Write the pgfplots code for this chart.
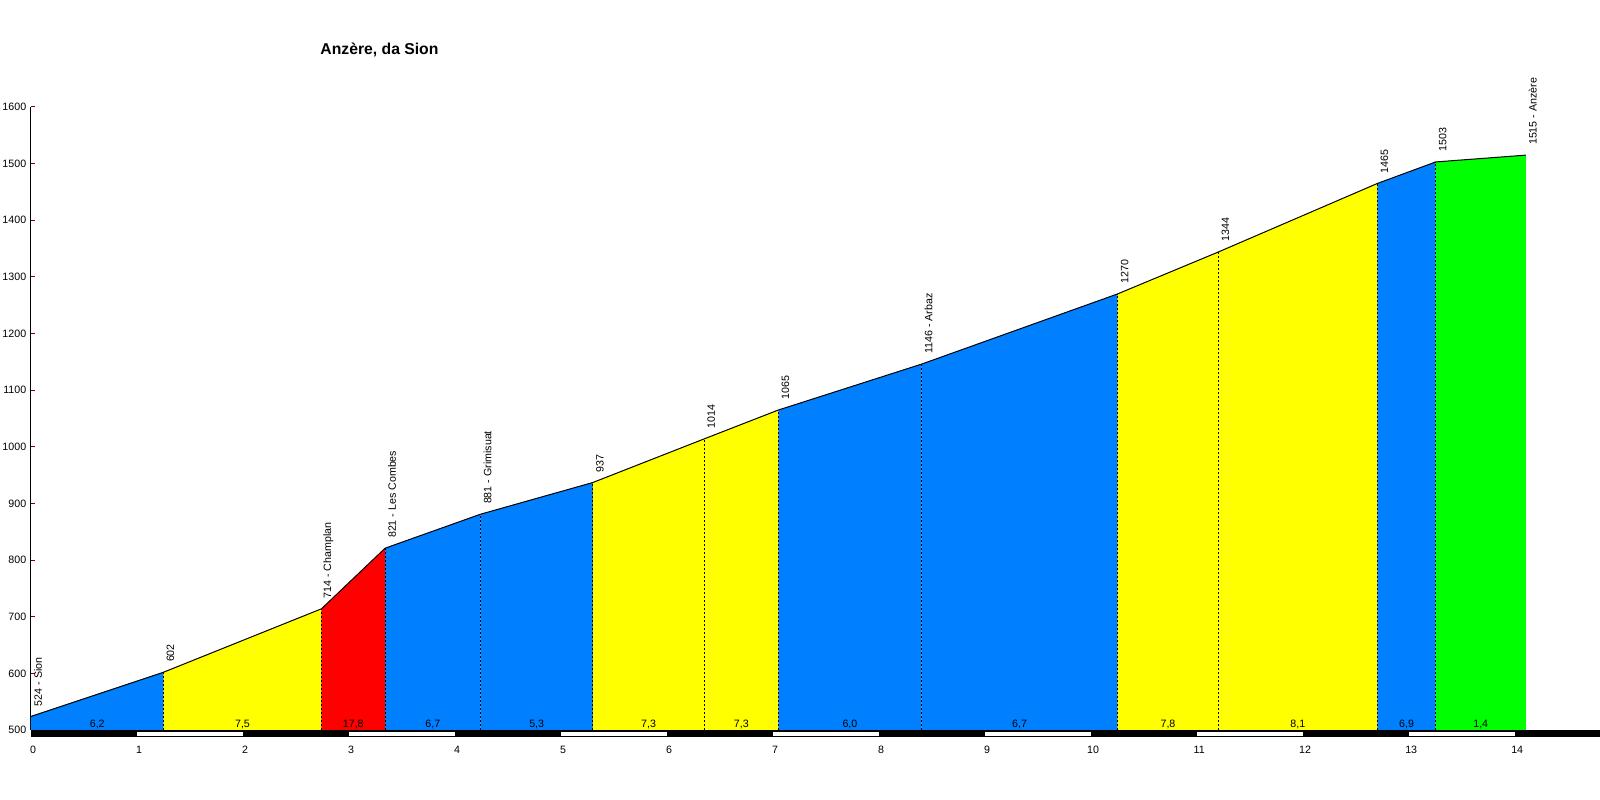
\documentclass[border=0pt]{standalone}
\usepackage{fontspec}
\setmainfont{Liberation Sans}
\usepackage{pgfplots}
\pgfplotsset{compat=1.18}
\definecolor{cblue}{RGB}{0,128,255}
\definecolor{cyellow}{RGB}{255,255,0}
\definecolor{cred}{RGB}{255,0,0}
\definecolor{cgreen}{RGB}{0,255,0}
\definecolor{tickred}{RGB}{128,0,0}
\begin{document}
\begin{tikzpicture}
\useasboundingbox (0,0) rectangle (1200pt,600pt);
\node[anchor=base, font=\bfseries\fontsize{11.8}{14}\selectfont] at (284.6pt,559.3pt) {Anzère, da Sion};
\begin{axis}[
  at={(23.25pt,52.5pt)}, anchor=south west,
  scale only axis, width=1176.75pt, height=467.25pt,
  xmin=0, xmax=14.8, ymin=500, ymax=1600,
  clip=false,
  axis x line=bottom, axis y line=left,
  x axis line style={draw=none},
  y axis line style={-, line width=0.75pt, black},
  xtick={0,1,...,14}, ytick={500,600,...,1600},
  xtick style={draw=none},
  ytick style={tickred, line width=0.75pt},
  tick align=inside, major tick length=3pt,
  /pgf/number format/assume math mode=true,
  /pgf/number format/1000 sep={},
  tick label style={font=\fontsize{8}{9.6}\selectfont},
  yticklabel style={inner sep=0pt, xshift=-3.4pt},
  xticklabel style={inner sep=0pt, yshift=-12pt, xshift=1.5pt, anchor=north},
]
% filled segments
\addplot[fill=cblue, draw=none] coordinates {(0,524) (1.25,602)} \closedcycle;
\addplot[fill=cyellow, draw=none] coordinates {(1.25,602) (2.74,714)} \closedcycle;
\addplot[fill=cred, draw=none] coordinates {(2.74,714) (3.34,821)} \closedcycle;
\addplot[fill=cblue, draw=none] coordinates {(3.34,821) (4.24,881)} \closedcycle;
\addplot[fill=cblue, draw=none] coordinates {(4.24,881) (5.30,937)} \closedcycle;
\addplot[fill=cyellow, draw=none] coordinates {(5.30,937) (6.35,1014)} \closedcycle;
\addplot[fill=cyellow, draw=none] coordinates {(6.35,1014) (7.05,1065)} \closedcycle;
\addplot[fill=cblue, draw=none] coordinates {(7.05,1065) (8.40,1146)} \closedcycle;
\addplot[fill=cblue, draw=none] coordinates {(8.40,1146) (10.25,1270)} \closedcycle;
\addplot[fill=cyellow, draw=none] coordinates {(10.25,1270) (11.20,1344)} \closedcycle;
\addplot[fill=cyellow, draw=none] coordinates {(11.20,1344) (12.70,1465)} \closedcycle;
\addplot[fill=cblue, draw=none] coordinates {(12.70,1465) (13.25,1503)} \closedcycle;
\addplot[fill=cgreen, draw=none] coordinates {(13.25,1503) (14.10,1515)} \closedcycle;
% dashed separators
\pgfplotsset{sep/.style={black, line width=0.75pt, dash pattern=on 1.5pt off 1.5pt, mark=none}}
\addplot[sep] coordinates {(1.25,500) (1.25,602)};
\addplot[sep] coordinates {(2.74,500) (2.74,714)};
\addplot[sep] coordinates {(3.34,500) (3.34,821)};
\addplot[sep] coordinates {(4.24,500) (4.24,881)};
\addplot[sep] coordinates {(5.30,500) (5.30,937)};
\addplot[sep] coordinates {(6.35,500) (6.35,1014)};
\addplot[sep] coordinates {(7.05,500) (7.05,1065)};
\addplot[sep] coordinates {(8.40,500) (8.40,1146)};
\addplot[sep] coordinates {(10.25,500) (10.25,1270)};
\addplot[sep] coordinates {(11.20,500) (11.20,1344)};
\addplot[sep] coordinates {(12.70,500) (12.70,1465)};
\addplot[sep] coordinates {(13.25,500) (13.25,1503)};
% profile line
\addplot[black, line width=0.75pt, mark=none] coordinates {
(0,524) (1.25,602) (2.74,714) (3.34,821) (4.24,881) (5.30,937) (6.35,1014)
(7.05,1065) (8.40,1146) (10.25,1270) (11.20,1344) (12.70,1465) (13.25,1503) (14.10,1515)};
% scale bar
\addplot[fill=black, draw=none] coordinates {(0,500) (14.8,500) (14.8,488.3) (0,488.3)} --cycle;
\pgfplotsset{wseg/.style={fill=white, draw=none}}
\addplot[wseg] coordinates {(1,497) (2,497) (2,490) (1,490)} --cycle;
\addplot[wseg] coordinates {(3,497) (4,497) (4,490) (3,490)} --cycle;
\addplot[wseg] coordinates {(5,497) (6,497) (6,490) (5,490)} --cycle;
\addplot[wseg] coordinates {(7,497) (8,497) (8,490) (7,490)} --cycle;
\addplot[wseg] coordinates {(9,497) (10,497) (10,490) (9,490)} --cycle;
\addplot[wseg] coordinates {(11,497) (12,497) (12,490) (11,490)} --cycle;
\addplot[wseg] coordinates {(13,497) (14,497) (14,490) (13,490)} --cycle;
% altitude labels
\tikzset{alt/.style={rotate=90, anchor=west, inner sep=0pt, font=\fontsize{8}{9.6}\selectfont}}
\node[alt] at ([shift={(5.25pt,7.5pt)}]axis cs:0,524) {524 - Sion};
\node[alt] at ([shift={(5.25pt,7.5pt)}]axis cs:1.25,602) {602};
\node[alt] at ([shift={(5.25pt,7.5pt)}]axis cs:2.74,714) {714 - Champlan};
\node[alt] at ([shift={(5.25pt,7.5pt)}]axis cs:3.34,821) {821 - Les Combes};
\node[alt] at ([shift={(5.25pt,7.5pt)}]axis cs:4.24,881) {881 - Grimisuat};
\node[alt] at ([shift={(5.25pt,7.5pt)}]axis cs:5.30,937) {937};
\node[alt] at ([shift={(5.25pt,7.5pt)}]axis cs:6.35,1014) {1014};
\node[alt] at ([shift={(5.25pt,7.5pt)}]axis cs:7.05,1065) {1065};
\node[alt] at ([shift={(5.25pt,7.5pt)}]axis cs:8.40,1146) {1146 - Arbaz};
\node[alt] at ([shift={(5.25pt,7.5pt)}]axis cs:10.25,1270) {1270};
\node[alt] at ([shift={(5.25pt,7.5pt)}]axis cs:11.20,1344) {1344};
\node[alt] at ([shift={(5.25pt,7.5pt)}]axis cs:12.70,1465) {1465};
\node[alt] at ([shift={(5.25pt,7.5pt)}]axis cs:13.25,1503) {1503};
\node[alt] at ([shift={(5.25pt,7.5pt)}]axis cs:14.10,1515) {1515 - Anzère};
% gradient labels
\tikzset{grad/.style={anchor=base, inner sep=0pt, font=\fontsize{8}{9.6}\selectfont}}
\node[grad] at ([yshift=1.5pt]axis cs:0.625,500) {6,2};
\node[grad] at ([yshift=1.5pt]axis cs:1.995,500) {7,5};
\node[grad] at ([yshift=1.5pt]axis cs:3.04,500) {17,8};
\node[grad] at ([yshift=1.5pt]axis cs:3.79,500) {6,7};
\node[grad] at ([yshift=1.5pt]axis cs:4.77,500) {5,3};
\node[grad] at ([yshift=1.5pt]axis cs:5.825,500) {7,3};
\node[grad] at ([yshift=1.5pt]axis cs:6.70,500) {7,3};
\node[grad] at ([yshift=1.5pt]axis cs:7.725,500) {6,0};
\node[grad] at ([yshift=1.5pt]axis cs:9.325,500) {6,7};
\node[grad] at ([yshift=1.5pt]axis cs:10.725,500) {7,8};
\node[grad] at ([yshift=1.5pt]axis cs:11.95,500) {8,1};
\node[grad] at ([yshift=1.5pt]axis cs:12.975,500) {6,9};
\node[grad] at ([yshift=1.5pt]axis cs:13.675,500) {1,4};
\end{axis}
\end{tikzpicture}
\end{document}
